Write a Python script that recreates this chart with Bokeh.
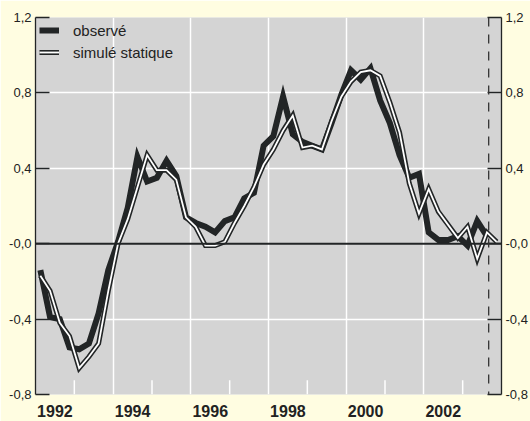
from bokeh.plotting import figure
from bokeh.models import (ColumnDataSource, LinearAxis, FixedTicker, Span, Legend,
                          LegendItem, Range1d)
from bokeh.embed import file_html
from bokeh.resources import INLINE

# ---- data (quarterly, 1992Q1 .. 2003Q4) ----
start_year = 1992
observe = [-0.14, -0.39, -0.40, -0.55, -0.56, -0.53, -0.37, -0.14,
           0.01, 0.19, 0.46, 0.33, 0.35, 0.44, 0.36, 0.14,
           0.11, 0.09, 0.06, 0.12, 0.14, 0.24, 0.27, 0.52,
           0.57, 0.78, 0.58, 0.54, 0.52, 0.50, 0.64, 0.79,
           0.92, 0.87, 0.93, 0.76, 0.64, 0.47, 0.35, 0.37,
           0.06, 0.02, 0.02, 0.04, -0.01, 0.12, 0.04]
simule = [-0.17, -0.25, -0.42, -0.49, -0.66, -0.60, -0.53, -0.25,
          0.00, 0.13, 0.30, 0.47, 0.39, 0.39, 0.34, 0.14,
          0.09, -0.01, -0.01, 0.01, 0.11, 0.20, 0.30, 0.42,
          0.50, 0.60, 0.68, 0.51, 0.52, 0.50, 0.65, 0.78,
          0.86, 0.91, 0.92, 0.89, 0.75, 0.59, 0.32, 0.16,
          0.29, 0.17, 0.10, 0.03, 0.09, -0.08, 0.06, 0.01]
year_labels = ["1992", "1994", "1996", "1998", "2000", "2002"]
y_ticks = [-0.8, -0.4, 0.0, 0.4, 0.8, 1.2]
y_tick_labels = ["-0,8", "-0,4", "-0,0", "0,4", "0,8", "1,2"]
grid_years = [1994, 1996, 1998, 2000, 2002]
odd_years = [1993, 1995, 1997, 1999, 2001, 2003]
forecast_start = 2003.67

x_obs = [start_year + (i + 0.5) / 4 for i in range(len(observe))]
x_sim = [start_year + (i + 0.5) / 4 for i in range(len(simule))]

BG = "#fffde1"
PLOT_BG = "#d4d4d4"
DARK = "#222526"
FONT = "'Liberation Sans', Arial, sans-serif"

p = figure(width=530, height=421, output_backend="svg", toolbar_location=None,
           x_range=Range1d(1992, 2004), y_range=Range1d(-0.8, 1.2),
           x_axis_location=None, y_axis_location=None)
p.min_border_left = 35
p.min_border_right = 27
p.min_border_top = 17
p.min_border_bottom = 27
p.background_fill_color = PLOT_BG
p.border_fill_color = BG
p.outline_line_color = None

# grids
p.xgrid.ticker = FixedTicker(ticks=grid_years)
p.xgrid.grid_line_color = "white"
p.xgrid.grid_line_width = 1.5
p.ygrid.ticker = FixedTicker(ticks=[-0.4, 0.4, 0.8, 1.2])
p.ygrid.grid_line_color = "white"
p.ygrid.grid_line_width = 1.5

# short white ticks at odd years
p.segment(x0=odd_years, x1=odd_years, y0=[-0.8] * len(odd_years),
          y1=[-0.725] * len(odd_years), line_color="white", line_width=1.5)

# zero line
p.add_layout(Span(location=0, dimension="width", line_color=DARK, line_width=2))
# forecast dashed line
p.add_layout(Span(location=forecast_start, dimension="height", line_color="#333333",
                  line_width=1.3, line_dash="9 8"))

# axes
def yaxis():
    ax = LinearAxis(ticker=FixedTicker(ticks=y_ticks))
    ax.major_label_overrides = {t: l for t, l in zip(y_ticks, y_tick_labels)}
    ax.major_tick_in = 14
    ax.major_tick_out = 0
    ax.minor_tick_line_color = None
    ax.axis_line_color = DARK
    ax.axis_line_width = 1.3
    ax.major_tick_line_color = DARK
    ax.major_tick_line_width = 1.3
    ax.major_label_standoff = 4
    ax.major_label_text_font = FONT
    ax.major_label_text_font_size = "13px"
    ax.major_label_text_color = "#222222"
    return ax

p.add_layout(yaxis(), "left")
p.add_layout(yaxis(), "right")

label_pos = [int(y) + 0.5 for y in year_labels]
xax = LinearAxis(ticker=FixedTicker(ticks=label_pos))
xax.major_label_overrides = {t: l for t, l in zip(label_pos, year_labels)}
xax.axis_line_color = None
xax.major_tick_line_color = None
xax.minor_tick_line_color = None
xax.major_tick_in = 0
xax.major_tick_out = 0
xax.major_label_standoff = 10
xax.major_label_text_font = FONT
xax.major_label_text_font_style = "bold"
xax.major_label_text_font_size = "16px"
xax.major_label_text_color = "#222222"
p.add_layout(xax, "below")

# series
src_obs = ColumnDataSource(dict(x=x_obs, y=observe))
src_sim = ColumnDataSource(dict(x=x_sim, y=simule))
r_obs = p.line("x", "y", source=src_obs, line_color=DARK, line_width=6, line_join="miter")
r_sim_o = p.line("x", "y", source=src_sim, line_color=DARK, line_width=5, line_join="miter")
r_sim_i = p.line("x", "y", source=src_sim, line_color="white", line_width=1.8, line_join="miter")

legend = Legend(items=[LegendItem(label="observé", renderers=[r_obs]),
                       LegendItem(label="simulé statique", renderers=[r_sim_o, r_sim_i])],
                location="top_left")
legend.background_fill_alpha = 0
legend.border_line_alpha = 0
legend.label_text_font = FONT
legend.label_text_font_size = "15px"
legend.label_text_color = "#222222"
legend.glyph_width = 20
legend.glyph_height = 18
legend.label_height = 18
legend.spacing = 4
legend.padding = 2
legend.margin = 2
legend.label_standoff = 14
p.add_layout(legend)

open("out.html", "w").write(file_html(p, INLINE))
